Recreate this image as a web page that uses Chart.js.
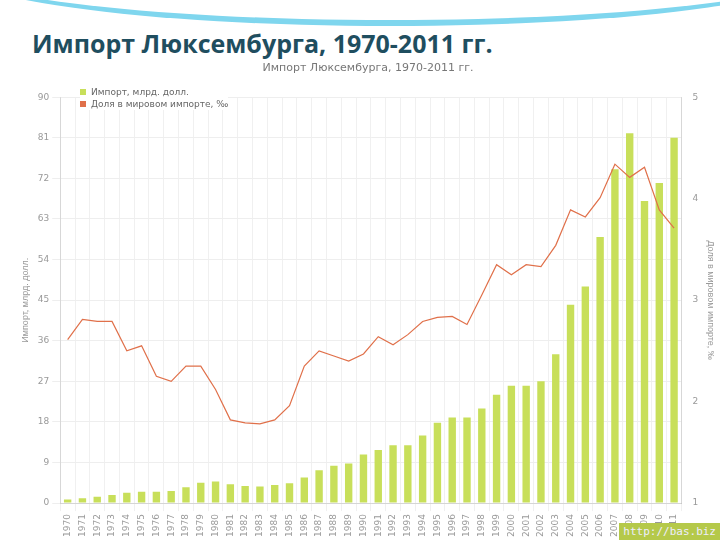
<!DOCTYPE html><html><head><meta charset="utf-8">
<script src="https://cdn.jsdelivr.net/npm/chart.js@4"></script>
<style>
body{margin:0;width:720px;height:540px;background:#fff;position:relative;overflow:hidden;font-family:"DejaVu Sans",sans-serif}
#h{position:absolute;left:32px;top:26px;font:bold 25px "Open Sans","DejaVu Sans",sans-serif;color:#1f4e5f}
#sw{position:absolute;left:-60px;top:-100px;width:900px;height:120px;border-radius:50%;border-bottom:6px solid #7fd6ee;}
#c{position:absolute;left:16px;top:58px}
#lg{position:absolute;left:80px;top:86px;font:9px "DejaVu Sans";color:#666;background:#fff;line-height:12px}
#lg i{display:inline-block;width:6px;height:6px;margin-right:5px}
#u{position:absolute;right:0;bottom:0;background:#b5c94a;color:#eef;font:11px monospace;padding:2px 4px}
</style></head><body>
<div id="sw"></div>
<div id="h">Импорт Люксембурга, 1970-2011 гг.</div>
<canvas id="c" width="704" height="482"></canvas>
<div id="lg"><div><i style="background:#c8df5a"></i>Импорт, млрд. долл.</div><div><i style="background:#e0704a"></i>Доля в мировом импорте, ‰</div></div>
<div id="u">http://bas.biz</div>
<script>
const years=[1970,1971,1972,1973,1974,1975,1976,1977,1978,1979,1980,1981,1982,1983,1984,1985,1986,1987,1988,1989,1990,1991,1992,1993,1994,1995,1996,1997,1998,1999,2000,2001,2002,2003,2004,2005,2006,2007,2008,2009,2010,2011].map(String);
const imports=[0.8,1.1,1.4,1.8,2.3,2.5,2.5,2.7,3.5,4.5,4.8,4.2,3.8,3.7,4.0,4.4,5.7,7.3,8.3,8.8,10.8,11.8,12.8,12.8,15,17.8,19,19,21,24,26,26,27,33,44,48,59,74,82,67,71,81];
const share=[2.61,2.81,2.79,2.79,2.50,2.55,2.25,2.20,2.35,2.35,2.12,1.82,1.79,1.78,1.82,1.96,2.35,2.50,2.45,2.40,2.47,2.64,2.56,2.66,2.79,2.83,2.84,2.76,3.05,3.35,3.25,3.35,3.33,3.54,3.89,3.82,4.01,4.34,4.21,4.31,3.89,3.71];
const tk={color:'#999',font:{size:9,family:'DejaVu Sans'}};
new Chart(document.getElementById('c'),{
data:{labels:years,datasets:[
{type:'line',label:'Доля в мировом импорте, ‰',data:share,yAxisID:'y2',borderColor:'#e0704a',borderWidth:1.2,pointRadius:0,tension:0},
{type:'bar',label:'Импорт, млрд. долл.',data:imports,yAxisID:'y',backgroundColor:'#c8df5a',barPercentage:0.5,categoryPercentage:1}
]},
options:{responsive:false,animation:false,
plugins:{title:{display:true,text:'Импорт Люксембурга, 1970-2011 гг.',color:'#777',font:{size:11,weight:'normal',family:'DejaVu Sans'},padding:{top:4,bottom:22}},
legend:{display:false}},
scales:{
x:{ticks:{...tk,maxRotation:90,minRotation:90,autoSkip:false},grid:{color:'#f0f0f0'}},
y:{min:0,max:90,ticks:{...tk,stepSize:9},grid:{color:'#eee'},title:{display:true,text:'Импорт, млрд. долл.',color:'#999',font:{size:9}}},
y2:{position:'right',min:1,max:5,ticks:{...tk,stepSize:1},grid:{display:false},title:{display:true,text:'Доля в мировом импорте, ‰',color:'#999',font:{size:9}}}
}}});
</script></body></html>
